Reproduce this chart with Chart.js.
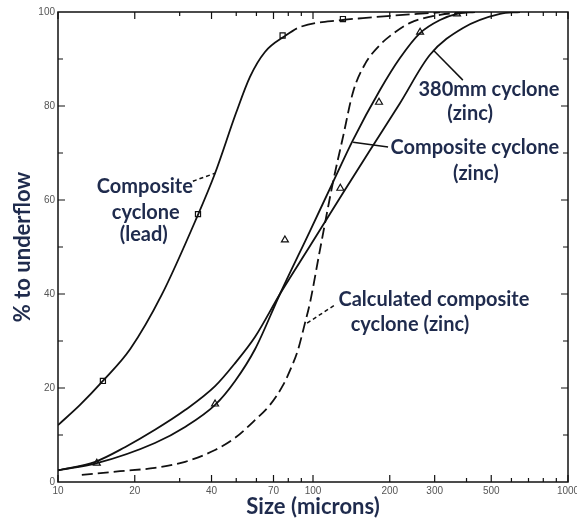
<!DOCTYPE html>
<html>
<head>
<meta charset="utf-8">
<script src="https://cdn.jsdelivr.net/npm/chart.js@4.4.0/dist/chart.umd.min.js"></script>
<style>
  html, body { margin: 0; padding: 0; background: #fff; }
</style>
</head>
<body>
<canvas id="chart" width="577" height="521"></canvas>
<script>
// Composite cyclone (lead), solid curve + square points
const leadSize = [10, 12.2, 15, 19.2, 25.5, 35.1, 41.3, 49.9, 56.6, 64.8, 77.7, 88.9, 131.1, 157, 255.7, 314.8]
const leadPct  = [12.1, 16.4, 21.5, 28.3, 39.8, 56.4, 65.7, 78.5, 86.2, 91.5, 94.9, 96.8, 98.3, 98.7, 99.6, 99.9]
const leadPointSize = [15, 35.4, 76, 131]
const leadPointPct  = [21.5, 57, 95, 98.5]

// 380mm cyclone (zinc), solid curve
const c380Size = [10, 14, 18.3, 24, 31.5, 41.3, 49.5, 59.3, 74.2, 97.3, 131.1, 167.3, 219.3, 287.6, 387.5, 541, 648]
const c380Pct  = [2.5, 4.3, 7.4, 11.1, 15.3, 20.4, 25.3, 30.9, 40, 50.2, 61.5, 70.6, 80.6, 90.9, 96.6, 99.6, 100]

// Composite cyclone (zinc), solid curve + triangle points
const zincSize = [10, 14.2, 24, 31.5, 41.3, 49.5, 59.3, 74.2, 97.3, 119.8, 143.6, 183.1, 219.3, 262.8, 314.8, 367, 431.8]
const zincPct  = [2.5, 4.0, 8.3, 11.7, 16.4, 21.5, 28.3, 40, 53.4, 63.8, 72.8, 83.4, 90.2, 95.5, 98.3, 99.6, 100]
const zincPointSize = [14.2, 41.3, 77.6, 128, 181.5, 263, 367]
const zincPointPct  = [4, 16.6, 51.5, 62.5, 80.8, 95.7, 99.6]

// Calculated composite cyclone (zinc), dashed curve
const calcSize = [12.4, 17.5, 24, 31.5, 41.3, 49.5, 59.3, 67.8, 76.3, 82.7, 87.3, 93, 97.3, 106.5, 119.8, 131.1, 143.6, 159.9, 183.1, 209.7, 240.2, 314.8, 412.7]
const calcPct  = [1.5, 2.3, 3.0, 4.3, 6.8, 9.4, 13.2, 16.4, 20.6, 24.7, 28.1, 33.8, 38.1, 49.4, 63.8, 73.4, 83.0, 88.9, 93.0, 95.7, 97.7, 99.4, 100]

const xTickValues = [10, 20, 30, 40, 50, 60, 70, 80, 90, 100, 200, 300, 400, 500, 600, 700, 800, 900, 1000]
const xTickLabels = [10, 20, 40, 70, 100, 200, 300, 500, 1000]
const yTickLabels = [0, 20, 40, 60, 80, 100]

const labelColor = "#1f2b4d"
const labelFont = "bold 20px Lato"

// text lines placed at data coordinates
const notes = [
  { text: "Composite", x: 21.9, y: 62.8 },
  { text: "cyclone", x: 22.1, y: 57.4 },
  { text: "(lead)", x: 21.7, y: 52.6 },
  { text: "380mm cyclone", x: 490, y: 83.6 },
  { text: "(zinc)", x: 413, y: 78.5 },
  { text: "Composite cyclone", x: 431, y: 71.1 },
  { text: "(zinc)", x: 435, y: 65.7 },
  { text: "Calculated composite", x: 298, y: 38.9 },
  { text: "cyclone (zinc)", x: 240, y: 33.6 }
]
const pointers = [
  { from: [33.8, 64.0], to: [41.3, 65.7], dash: [4, 3] },
  { from: [296, 91.9], to: [387, 85.5], dash: [] },
  { from: [143.6, 72.3], to: [197, 71.3], dash: [] },
  { from: [94.8, 33.8], to: [122, 37.7], dash: [4, 3] }
]

function pts(xs, ys) {
  return xs.map((x, i) => ({ x: x, y: ys[i] }))
}

const curve = {
  showLine: true,
  borderColor: "#111",
  borderWidth: 1.8,
  pointRadius: 0,
  cubicInterpolationMode: "monotone",
  fill: false
}

const marker = {
  showLine: false,
  pointBackgroundColor: "#fff",
  pointBorderColor: "#111",
  pointBorderWidth: 1.2
}

// border box, inward tick marks and the curve labels
const frame = {
  id: "frame",
  afterDraw(chart) {
    const ctx = chart.ctx
    const a = chart.chartArea
    const xs = chart.scales.x
    const ys = chart.scales.y
    ctx.save()
    ctx.strokeStyle = "#111"
    ctx.lineWidth = 1.5
    ctx.strokeRect(a.left, a.top, a.right - a.left, a.bottom - a.top)
    ctx.lineWidth = 1.2
    ctx.beginPath()
    xTickValues.forEach(v => {
      const px = xs.getPixelForValue(v)
      const len = xTickLabels.includes(v) ? 7 : 4
      ctx.moveTo(px, a.bottom); ctx.lineTo(px, a.bottom - len)
      ctx.moveTo(px, a.top); ctx.lineTo(px, a.top + len)
    })
    for (let v = 10; v < 100; v += 10) {
      const py = ys.getPixelForValue(v)
      const len = yTickLabels.includes(v) ? 7 : 5
      ctx.moveTo(a.left, py); ctx.lineTo(a.left + len, py)
      ctx.moveTo(a.right, py); ctx.lineTo(a.right - len, py)
    }
    ctx.stroke()

    ctx.fillStyle = labelColor
    ctx.font = labelFont
    ctx.textAlign = "center"
    ctx.textBaseline = "middle"
    notes.forEach(n => {
      ctx.fillText(n.text, xs.getPixelForValue(n.x), ys.getPixelForValue(n.y))
    })
    ctx.strokeStyle = "#111"
    ctx.lineWidth = 1.5
    pointers.forEach(p => {
      ctx.setLineDash(p.dash)
      ctx.beginPath()
      ctx.moveTo(xs.getPixelForValue(p.from[0]), ys.getPixelForValue(p.from[1]))
      ctx.lineTo(xs.getPixelForValue(p.to[0]), ys.getPixelForValue(p.to[1]))
      ctx.stroke()
    })
    ctx.restore()
  }
}

new Chart(document.getElementById("chart"), {
  type: "scatter",
  data: {
    datasets: [
      {
        ...curve,
        label: "Composite cyclone (lead)",
        data: pts(leadSize, leadPct),
        segment: {
          borderDash: c => (c.p0.parsed.x >= 77 ? [14, 5] : undefined)
        }
      },
      { ...curve, label: "380mm cyclone (zinc)", data: pts(c380Size, c380Pct) },
      { ...curve, label: "Composite cyclone (zinc)", data: pts(zincSize, zincPct) },
      { ...curve, label: "Calculated composite cyclone (zinc)", data: pts(calcSize, calcPct), borderDash: [11, 5] },
      { ...marker, label: "lead points", data: pts(leadPointSize, leadPointPct), pointStyle: "rect", pointRadius: 3.6 },
      { ...marker, label: "zinc points", data: pts(zincPointSize, zincPointPct), pointStyle: "triangle", pointRadius: 4 }
    ]
  },
  options: {
    responsive: false,
    animation: false,
    layout: { padding: { top: 12, right: 9, left: 0, bottom: 0 } },
    plugins: {
      legend: { display: false },
      tooltip: { enabled: false }
    },
    scales: {
      x: {
        type: "logarithmic",
        min: 10,
        max: 1000,
        afterBuildTicks: scale => {
          scale.ticks = xTickValues.map(v => ({ value: v }))
        },
        afterFit: scale => {
          scale.height = 39
          scale.paddingLeft = 0
          scale.paddingRight = 0
        },
        grid: { display: false, drawTicks: false },
        border: { display: false },
        ticks: {
          autoSkip: false,
          maxRotation: 0,
          padding: 3,
          color: "#555",
          font: { family: "Liberation Sans", size: 10 },
          callback: v => (xTickLabels.includes(v) ? String(v) : "")
        },
        title: {
          display: true,
          text: "Size (microns)",
          color: labelColor,
          font: { family: "Lato", size: 22, weight: "bold" },
          padding: { top: 0, bottom: 1 }
        }
      },
      y: {
        min: 0,
        max: 100,
        afterFit: scale => {
          scale.width = 58
          scale.paddingTop = 0
          scale.paddingBottom = 0
        },
        grid: { display: false, drawTicks: false },
        border: { display: false },
        ticks: {
          stepSize: 10,
          padding: 3,
          color: "#555",
          font: { family: "Liberation Sans", size: 10 },
          callback: v => (yTickLabels.includes(v) ? String(v) : "")
        },
        title: {
          display: true,
          text: "% to underflow",
          color: labelColor,
          font: { family: "Lato", size: 22, weight: "bold" },
          padding: { top: 10, bottom: 0 }
        }
      }
    }
  },
  plugins: [frame]
})
</script>
</body>
</html>
